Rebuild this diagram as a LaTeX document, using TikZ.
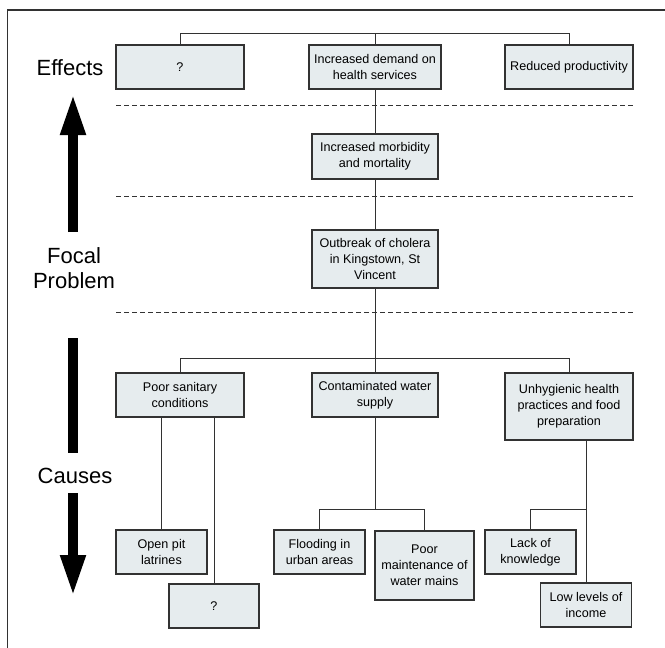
\documentclass[tikz,border=0pt]{standalone}
\usepackage{fontspec}
\setmainfont{Liberation Sans}
\usetikzlibrary{positioning}
\usetikzlibrary{arrows.meta}

\definecolor{boxfill}{RGB}{230,236,238}
\definecolor{boxline}{RGB}{50,50,50}
\newcommand{\boxfont}{\fontsize{12.6}{16}\selectfont}
\newcommand{\sidefont}{\fontsize{22}{25}\selectfont}

\tikzset{
  probbox/.style={draw=boxline, fill=boxfill, line width=1.1pt, align=center, font=\boxfont, inner sep=1pt},
  bigbox/.style={probbox, minimum width=128pt, minimum height=44pt},
  subbox/.style={probbox, minimum width=91pt, minimum height=44pt},
  link/.style={draw=boxline, line width=0.9pt},
  divider/.style={dash pattern=on 5pt off 3pt, line width=0.7pt, black!80},
  side/.style={font=\sidefont, align=center},
  fat/.style={line width=10pt, -{Triangle[length=42pt 0 0, width=23pt 0 0]}}
}

\begin{document}
\begin{tikzpicture}[x=1pt, y=-1pt]
    \useasboundingbox (0,0) rectangle (665,648);
    \draw[line width=1.5pt, boxline] (7.5,648) -- (7.5,10) -- (665,10);

    % effects
    \node(eff1) [bigbox] at (180,67) {?};
    \node(eff2) [bigbox, minimum width=132pt] at (375,67) {Increased demand on\\health services};
    \node(eff3) [bigbox] at (569,67) {Reduced productivity};

    \node(morb) [probbox, minimum width=126pt, minimum height=45pt] at (375,156.5) {Increased morbidity\\and mortality};
    \node(outb) [probbox, minimum width=126pt, minimum height=58pt] at (375,259) {Outbreak of cholera\\in Kingstown, St\\Vincent};

    % causes
    \node(c1) [bigbox] at (180,395) {Poor sanitary\\conditions};
    \node(c2) [bigbox, minimum width=126pt] at (375,395) {Contaminated water\\supply};
    \node(c3) [bigbox, minimum height=67pt] at (569,406.5) {Unhygienic health\\practices and food\\preparation};

    \node(s1) [subbox] at (161.5,552) {Open pit\\latrines};
    \node(s2) [subbox, minimum width=90pt] at (214,606) {?};
    \node(s3) [subbox] at (319.5,552) {Flooding in\\urban areas};
    \node(s4) [subbox, minimum width=99pt, minimum height=69pt] at (424.5,565.5) {Poor\\maintenance of\\water mains};
    \node(s5) [subbox] at (530.5,552) {Lack of\\knowledge};
    \node(s6) [subbox] at (586,605) {Low levels of\\income};

    % side labels
    \node(effects) [side] at (70,68) {Effects};
    \node(focal) [side] at (74,268) {Focal\\Problem};
    \node(causes) [side] at (75,476) {Causes};

    \draw[fat] (73,232) -- (73,93);
    \draw[line width=10pt] (73,338) -- (73,453);
    \draw[fat] (73,493) -- (73,597);

    \draw[link] (eff1.north) -- ++(0,-11) -| (eff3.north);
    \draw[link] (eff2.north) -- (eff2.north |- 0,34);
    \draw[link] (eff2.south) -- (morb.north);
    \draw[link] (morb.south) -- (outb.north);
    \draw[link] (outb.south) -- (c2.north);

    \draw[link] (c1.north) -- ++(0,-14) -| (c3.north);
    \draw[link] (s1.north |- c1.south) -- (s1.north);
    \draw[link] (s2.north |- c1.south) -- (s2.north);
    \draw[link] (c2.south) -- ++(0,92) coordinate (wbar);
    \draw[link] (s3.north) |- (wbar) -| (s4.north);
    \draw[link] (s6.north |- c3.south) -- (s6.north);
    \draw[link] (s5.north) |- (s6.north |- wbar);

    \foreach \y in {105,196,312}
        \draw[divider] (116,\y) -- (634,\y);
\end{tikzpicture}
\end{document}
